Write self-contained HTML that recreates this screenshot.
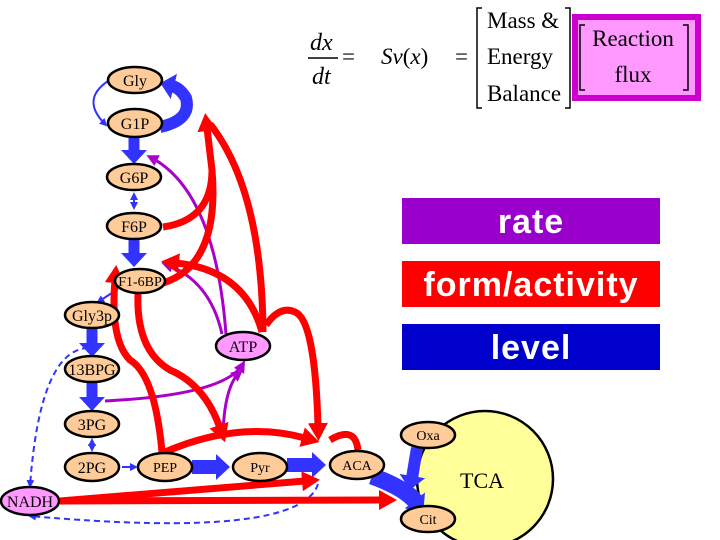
<!DOCTYPE html>
<html><head><meta charset="utf-8"><style>
html,body{margin:0;padding:0;background:#fff;}
svg{display:block;}
.n{fill:#ffcc99;stroke:#000;stroke-width:2.5;}
.p{fill:#ff99ff;stroke:#000;stroke-width:2.5;}
text{font-family:"Liberation Serif",serif;}
text.lg{font-family:"Liberation Sans",sans-serif;font-weight:bold;font-size:34px;fill:#fff;letter-spacing:1px;}
</style></head><body>
<svg width="720" height="540" viewBox="0 0 720 540" xmlns="http://www.w3.org/2000/svg">
<defs>
<marker id="ar" markerUnits="userSpaceOnUse" markerWidth="18" markerHeight="20" refX="3" refY="10" orient="auto"><path d="M0,0 L18,10 L0,20z" fill="#ff0000"/></marker>
<marker id="ab" markerUnits="userSpaceOnUse" markerWidth="14" markerHeight="26" refX="2" refY="13" orient="auto"><path d="M0,0 L14,13 L0,26z" fill="#3333ff"/></marker>
<marker id="abt" markerUnits="userSpaceOnUse" markerWidth="8" markerHeight="8" refX="6" refY="4" orient="auto"><path d="M0,0 L8,4 L0,8z" fill="#3333ff"/></marker>
<marker id="abs" markerUnits="userSpaceOnUse" markerWidth="8" markerHeight="8" refX="6" refY="4" orient="auto-start-reverse"><path d="M0,0 L8,4 L0,8z" fill="#3333ff"/></marker>
<marker id="ap" markerUnits="userSpaceOnUse" markerWidth="12" markerHeight="12" refX="8" refY="6" orient="auto"><path d="M0,0 L12,6 L0,12z" fill="#aa00cc"/></marker>
</defs>

<!-- equation -->
<text x="310" y="50" font-size="24" font-style="italic">dx</text>
<line x1="308" y1="58" x2="338" y2="58" stroke="#000" stroke-width="1.5"/>
<text x="312" y="84" font-size="24" font-style="italic">dt</text>
<text x="342" y="64" font-size="23">=</text>
<text x="381" y="64" font-size="23"><tspan font-style="italic">Sv</tspan>(<tspan font-style="italic">x</tspan>)</text>
<text x="455" y="64" font-size="23">=</text>
<path d="M482,8 H477 V108 H482" fill="none" stroke="#000" stroke-width="1.5"/>
<text x="487" y="28" font-size="23">Mass &amp;</text>
<text x="487" y="64" font-size="23">Energy</text>
<text x="487" y="101" font-size="23">Balance</text>
<rect x="575" y="17" width="123" height="81" fill="#ff99ff" stroke="#cc00cc" stroke-width="6"/>
<path d="M565,8 H570 V108 H565" fill="none" stroke="#000" stroke-width="1.5"/>
<path d="M585,25 H580 V90 H585 M683,25 H688 V90 H683" fill="none" stroke="#000" stroke-width="1.5"/>
<text x="633" y="46" font-size="23" text-anchor="middle">Reaction</text>
<text x="633" y="82" font-size="23" text-anchor="middle">flux</text>

<!-- legend -->
<rect x="402" y="198" width="258" height="46" fill="#9900cc"/>
<rect x="402" y="261" width="258" height="46" fill="#ff0000"/>
<rect x="402" y="324" width="258" height="46" fill="#0000cc"/>
<text class="lg" x="531" y="233" text-anchor="middle">rate</text>
<text class="lg" x="531" y="296" text-anchor="middle">form/activity</text>
<text class="lg" x="531" y="359" text-anchor="middle">level</text>

<!-- TCA -->
<circle cx="485" cy="479" r="68" fill="#ffff99" stroke="#000" stroke-width="2.5"/>
<text x="482" y="488" font-size="22" text-anchor="middle">TCA</text>

<!-- blue thick arrows -->
<g stroke="#3333ff" fill="none">
<path d="M134,137 V152" stroke-width="11" marker-end="url(#ab)"/>
<path d="M134,239 V255" stroke-width="11" marker-end="url(#ab)"/>
<path d="M92,328 V345" stroke-width="11" marker-end="url(#ab)"/>
<path d="M92,382 V399" stroke-width="11" marker-end="url(#ab)"/>
<path d="M192,467 H218" stroke-width="14" marker-end="url(#ab)"/>
<path d="M287,465 H314" stroke-width="14" marker-end="url(#ab)"/>
<path d="M372,476 Q405,488 416,502" stroke-width="17" marker-end="url(#ab)"/>
<path d="M417,448 L412,478" stroke-width="12" marker-end="url(#ab)"/>
<path d="M160,127 Q192,120 186,98 Q180,88 172,86" stroke-width="12" marker-end="url(#ab)"/>
<path d="M108,81 Q80,100 106,125" stroke-width="2" marker-end="url(#abt)"/>
<path d="M134,194 V208" stroke-width="2" marker-start="url(#abs)" marker-end="url(#abs)"/>
<path d="M92,440 V450" stroke-width="2" marker-start="url(#abs)" marker-end="url(#abs)"/>
<path d="M122,467 H136" stroke-width="2" marker-end="url(#abt)"/>
<path d="M118,289 L98,302" stroke-width="2" marker-end="url(#abt)"/>
<path d="M88,348 Q40,350 30,486" stroke-width="2" stroke-dasharray="6,4" marker-end="url(#abt)"/>
<path d="M318,484 Q300,540 30,516" stroke-width="2" stroke-dasharray="6,4" marker-end="url(#abt)"/>
</g>

<!-- purple -->
<g stroke="#aa00cc" fill="none" stroke-width="3">
<path d="M226,334 Q215,190 150,157" marker-end="url(#ap)"/>
<path d="M222,334 Q210,280 165,264" marker-end="url(#ap)"/>
<path d="M105,401 Q225,395 243,364" marker-end="url(#ap)"/>
<path d="M223,432 Q225,385 240,372" marker-end="url(#ap)"/>
</g>

<!-- red -->
<g stroke="#ff0000" fill="none" stroke-width="7">
<path d="M163,227 Q212,220 212,170 L207,128" marker-end="url(#ar)"/>
<path d="M163,283 Q220,265 212,170"/>
<path d="M263,332 Q262,190 210,124"/>
<path d="M262,332 Q245,270 176,263" marker-end="url(#ar)"/>
<path d="M266,325 Q280,305 295,312 Q315,320 318,426" marker-end="url(#ar)"/>
<path d="M138,294 Q136,350 170,370 Q205,385 220,428" marker-end="url(#ar)"/>
<path d="M162,452 Q155,375 130,360 Q110,340 115,280" marker-end="url(#ar)"/>
<path d="M165,452 Q240,420 305,438" marker-end="url(#ar)"/>
<path d="M358,450 Q355,425 330,440"/>
<path d="M60,501 L305,481" marker-end="url(#ar)"/>
<path d="M60,501 L382,500" marker-end="url(#ar)"/>
</g>

<!-- nodes -->
<g font-size="16" text-anchor="middle">
<ellipse class="n" cx="135" cy="80" rx="27" ry="13"/><text x="135" y="86">Gly</text>
<ellipse class="n" cx="135" cy="123" rx="27" ry="14"/><text x="135" y="129">G1P</text>
<ellipse class="n" cx="134" cy="177" rx="27" ry="13"/><text x="134" y="183">G6P</text>
<ellipse class="n" cx="134" cy="226" rx="27" ry="13"/><text x="134" y="232">F6P</text>
<ellipse class="n" cx="140" cy="281" rx="25" ry="12"/><text x="140" y="286" font-size="14">F1-6BP</text>
<ellipse class="n" cx="92" cy="315" rx="27" ry="13"/><text x="92" y="321">Gly3p</text>
<ellipse class="n" cx="92" cy="369" rx="27" ry="13"/><text x="92" y="375">13BPG</text>
<ellipse class="n" cx="92" cy="424" rx="27" ry="13"/><text x="92" y="430">3PG</text>
<ellipse class="n" cx="92" cy="467" rx="27" ry="14"/><text x="92" y="473">2PG</text>
<ellipse class="n" cx="165" cy="467" rx="27" ry="14"/><text x="165" y="472" font-size="14">PEP</text>
<ellipse class="n" cx="260" cy="467" rx="27" ry="14"/><text x="260" y="472" font-size="14">Pyr</text>
<ellipse class="n" cx="357" cy="465" rx="27" ry="14"/><text x="357" y="470" font-size="14">ACA</text>
<ellipse class="n" cx="428" cy="435" rx="27" ry="13"/><text x="428" y="440" font-size="14">Oxa</text>
<ellipse class="n" cx="428" cy="519" rx="27" ry="13"/><text x="428" y="524" font-size="14">Cit</text>
<ellipse class="p" cx="243" cy="346" rx="27" ry="14"/><text x="243" y="352">ATP</text>
<ellipse class="p" cx="30" cy="501" rx="29" ry="14"/><text x="30" y="507">NADH</text>
</g>
</svg>
</body></html>
